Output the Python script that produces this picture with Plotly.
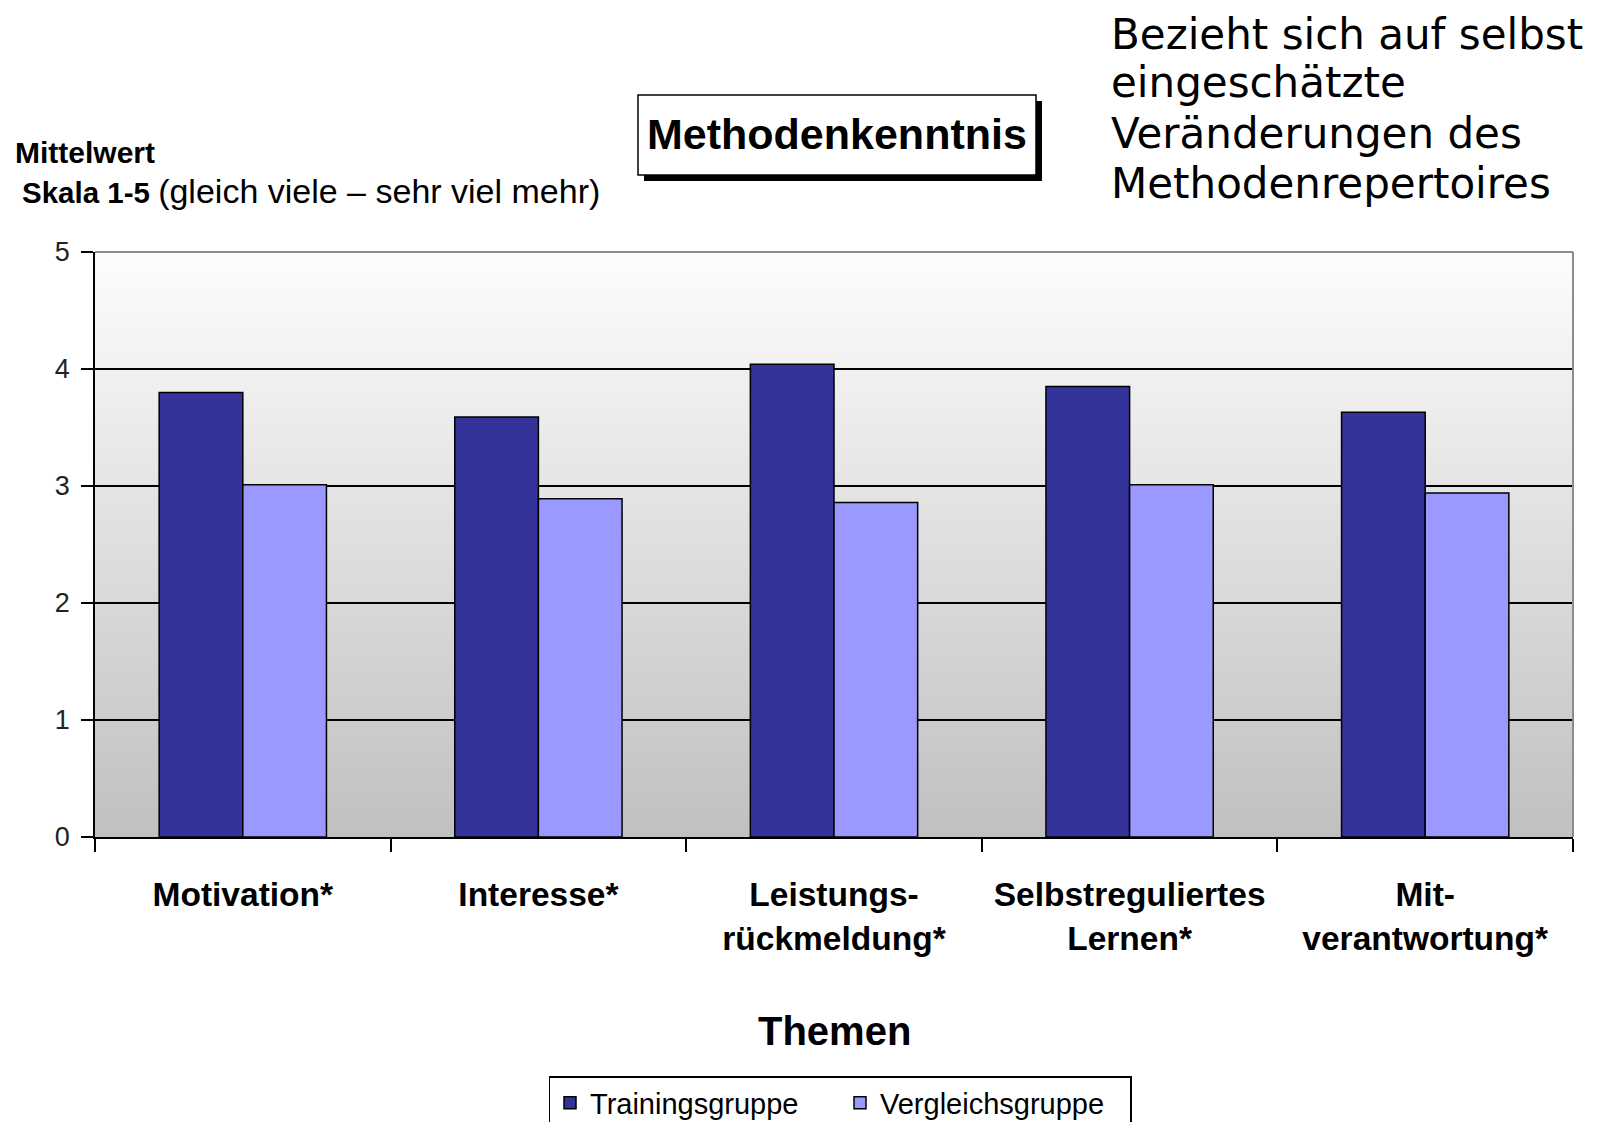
import plotly.graph_objects as go

# ---- data ----
categories = ["Motivation*", "Interesse*", "Leistungs-<br>rückmeldung*",
              "Selbstreguliertes<br>Lernen*", "Mit-<br>verantwortung*"]
training = [3.80, 3.59, 4.04, 3.85, 3.63]
vergleich = [3.01, 2.89, 2.86, 3.01, 2.94]
series_names = ["Trainingsgruppe", "Vergleichsgruppe"]
y_ticks = [0, 1, 2, 3, 4, 5]

OFF = 8  # page offset of the plot div (body margin)
W, H = 1597 - OFF, 1122 - OFF
ML, MT = 95 - OFF, 252 - OFF
PW, PH = 1478, 585
MR = W - ML - PW
MB = H - MT - PH


def px_x(px):
    return (px - OFF - ML) / PW


def px_y(py):
    return (MT + PH - (py - OFF)) / PH


fig = go.Figure()
fig.add_trace(go.Bar(x=categories, y=training, name=series_names[0],
                     marker=dict(color="#333399", line=dict(color="black", width=1.5))))
fig.add_trace(go.Bar(x=categories, y=vergleich, name=series_names[1],
                     marker=dict(color="#9999FF", line=dict(color="black", width=1.5))))

shapes = []
# gradient background bands
n = 100
top_c, bot_c = 253, 192
for i in range(n):
    f = (i + 0.5) / n
    c = int(round(bot_c + (top_c - bot_c) * f))
    shapes.append(dict(type="rect", xref="paper", yref="paper",
                       x0=0, x1=1, y0=i / n, y1=(i + 1) / n + 0.002,
                       fillcolor=f"rgb({c},{c},{c})", line=dict(width=0),
                       layer="below"))
# gray top/right frame
shapes.append(dict(type="line", xref="paper", yref="paper", x0=0, x1=1, y0=1, y1=1,
                   line=dict(color="#8c8c8c", width=2), layer="above"))
shapes.append(dict(type="line", xref="paper", yref="paper", x0=1, x1=1, y0=0, y1=1,
                   line=dict(color="#8c8c8c", width=2), layer="above"))
# title box with shadow
shapes.append(dict(type="rect", xref="paper", yref="paper",
                   x0=px_x(644), x1=px_x(1042), y0=px_y(181), y1=px_y(101),
                   fillcolor="black", line=dict(width=0), layer="above"))
shapes.append(dict(type="rect", xref="paper", yref="paper",
                   x0=px_x(638), x1=px_x(1036), y0=px_y(175), y1=px_y(95),
                   fillcolor="white", line=dict(color="black", width=1.5), layer="above"))

annotations = [
    dict(text="<b>Methodenkenntnis</b>", x=px_x(837), y=px_y(134), xref="paper", yref="paper",
         showarrow=False, xanchor="center", yanchor="middle",
         font=dict(family="Liberation Sans, Arial", size=43, color="black")),
    dict(text="<b>Themen</b>", x=0.5, y=px_y(1031), xref="paper", yref="paper",
         showarrow=False, xanchor="center", yanchor="middle",
         font=dict(family="Liberation Sans, Arial", size=40, color="black")),
    dict(text="<b>Mittelwert</b>", x=px_x(13), y=px_y(153), xref="paper", yref="paper",
         showarrow=False, xanchor="left", yanchor="middle",
         font=dict(family="Liberation Sans, Arial", size=30, color="black")),
    dict(text="<b>Skala 1-5</b> <span style='font-size:34px'>(gleich viele – sehr viel mehr)</span>",
         x=px_x(20), y=px_y(191), xref="paper", yref="paper",
         showarrow=False, xanchor="left", yanchor="middle",
         font=dict(family="Liberation Sans, Arial", size=29.5, color="black")),
]
right_lines = ["Bezieht sich auf selbst", "eingeschätzte", "Veränderungen des",
               "Methodenrepertoires"]
right_y = [34, 83, 133, 183.5]
for t, yy in zip(right_lines, right_y):
    annotations.append(dict(text=t, x=px_x(1109), y=px_y(yy), xref="paper", yref="paper",
                            showarrow=False, xanchor="left", yanchor="middle",
                            font=dict(family="DejaVu Sans", size=42, color="black")))

fig.update_layout(
    width=W, height=H,
    margin=dict(l=ML, r=MR, t=MT, b=MB, autoexpand=False),
    paper_bgcolor="white", plot_bgcolor="rgba(0,0,0,0)",
    barmode="group", bargap=0.434, bargroupgap=0,
    shapes=shapes, annotations=annotations,
    showlegend=True,
    legend=dict(orientation="h", x=px_x(840), xanchor="center", y=px_y(1076), yanchor="top",
                bordercolor="black", borderwidth=1.5, bgcolor="white",
                font=dict(family="Liberation Sans, Arial", size=29, color="black"),
                entrywidth=245),
    font=dict(family="Liberation Sans, Arial", color="black"),
)
fig.update_xaxes(
    automargin=False,
    showline=True, linecolor="black", linewidth=1.5,
    ticks="outside", tickson="boundaries", ticklen=13, tickcolor="black", tickwidth=1.5,
    tickfont=dict(family="Liberation Sans, Arial", size=33.5, color="black"),
    ticklabelstandoff=27, showgrid=False, tickprefix="<b>", ticksuffix="</b>",
)
fig.update_yaxes(
    automargin=False,
    range=[0, 5], tickvals=y_ticks, showline=True, linecolor="black", linewidth=1.5,
    ticks="outside", ticklen=12, tickcolor="black", tickwidth=1.5,
    showgrid=True, gridcolor="black", gridwidth=1.5, zeroline=False,
    tickfont=dict(family="Liberation Sans, Arial", size=27, color="#222"),
    ticklabelstandoff=6,
)

fig.write_html("out.html")
